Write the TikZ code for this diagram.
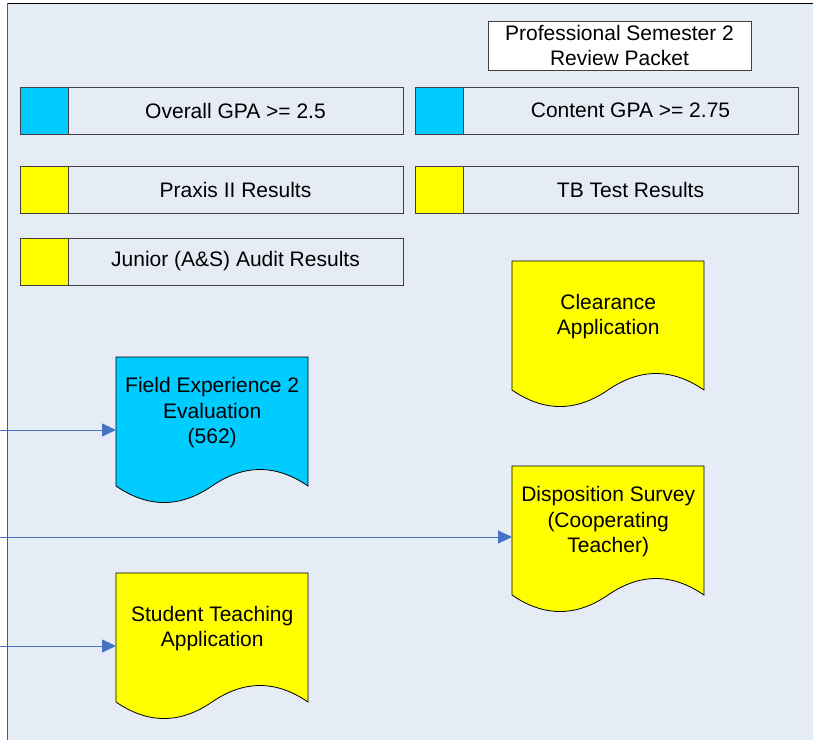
\documentclass[tikz,border=0pt]{standalone}
\usepackage{fontspec}
\setmainfont{Liberation Sans}
\usetikzlibrary{positioning, arrows.meta}
\definecolor{lanefill}{RGB}{230,236,246}
\definecolor{keycyan}{RGB}{0,204,255}
\definecolor{keyyellow}{RGB}{255,255,0}
\definecolor{flowblue}{RGB}{70,114,196}
\definecolor{edgegray}{RGB}{64,64,64}

% document shape, then its text node on top
\newcommand{\docnode}[5]{%
  \begin{scope}[shift={(#2,#3)}]
    \filldraw[fill=#4, draw=black, line width=0.8pt]
      (0,0) -- (192,0) -- (192,129)
      .. controls (160,107) and (128,107) .. (96,129)
      .. controls (64,151) and (32,151) .. (0,129) -- cycle;
  \end{scope}
  \node[doctext, anchor=north west] (#1) at (#2,#3) {#5};
}

\begin{document}
\begin{tikzpicture}[
    x=1pt, y=-1pt,
    font=\fontsize{21}{25.5}\selectfont,
    keybox/.style={rectangle, draw=edgegray, line width=0.8pt, minimum width=48pt, minimum height=47pt, inner sep=0pt, outer sep=0pt},
    barbox/.style={rectangle, draw=edgegray, line width=0.8pt, minimum width=335pt, minimum height=47pt, inner sep=0pt, outer sep=0pt},
    titlebox/.style={rectangle, draw=edgegray, fill=white, line width=0.8pt, minimum width=263pt, minimum height=49pt, inner sep=0pt, align=center},
    doctext/.style={rectangle, minimum width=192pt, minimum height=111pt, inner sep=0pt, align=center},
    flow/.style={draw=flowblue, line width=0.9pt, -{Triangle[length=14pt, width=13pt]}}
  ]
  \useasboundingbox (0,0) rectangle (813,740);

  % --- LANE ---
  \fill[white] (0,0) rectangle (813,740);
  \fill[lanefill] (7.5,3) rectangle (813,740);
  \draw[gray!70!black, line width=1pt] (7.5,740) -- (7.5,3);
  \draw[black, line width=1pt] (7.5,3) -- (813,3);

  % --- HEADER ---
  \node[titlebox] (packet) at (619.5,45.5) {Professional Semester 2\\Review Packet};

  % --- CRITERIA ---
  \node[keybox, fill=keycyan, anchor=north west] (gpaAllKey) at (20,87) {};
  \node[barbox, right=0pt of gpaAllKey] (gpaAll) {Overall GPA >= 2.5};
  \node[keybox, fill=keycyan, right=12pt of gpaAll] (gpaContentKey) {};
  \node[barbox, right=0pt of gpaContentKey] (gpaContent) {Content GPA >= 2.75};

  \node[keybox, fill=keyyellow, below=32pt of gpaAllKey] (praxisKey) {};
  \node[barbox, right=0pt of praxisKey] (praxis) {Praxis II Results};
  \node[keybox, fill=keyyellow, right=12pt of praxis] (tbKey) {};
  \node[barbox, right=0pt of tbKey] (tb) {TB Test Results};

  \node[keybox, fill=keyyellow, below=25pt of praxisKey] (auditKey) {};
  \node[barbox, right=0pt of auditKey] (audit) {Junior (A\&S) Audit Results};

  % --- DOCUMENTS ---
  \docnode{clearance}{512}{261}{keyyellow}{Clearance\\Application}
  \docnode{fieldEval}{116}{357}{keycyan}{Field Experience 2\\Evaluation\\(562)}
  \docnode{survey}{512}{466}{keyyellow}{Disposition Survey\\(Cooperating\\Teacher)}
  \docnode{teachApp}{116}{573}{keyyellow}{Student Teaching\\Application}

  % --- INCOMING ---
  \coordinate (inField) at (0,430);
  \coordinate (inSurvey) at (0,537);
  \coordinate (inTeach) at (0,646);
  \draw[flow] (inField) -- (inField -| fieldEval.west);
  \draw[flow] (inSurvey) -- (inSurvey -| survey.west);
  \draw[flow] (inTeach) -- (inTeach -| teachApp.west);

\end{tikzpicture}
\end{document}
